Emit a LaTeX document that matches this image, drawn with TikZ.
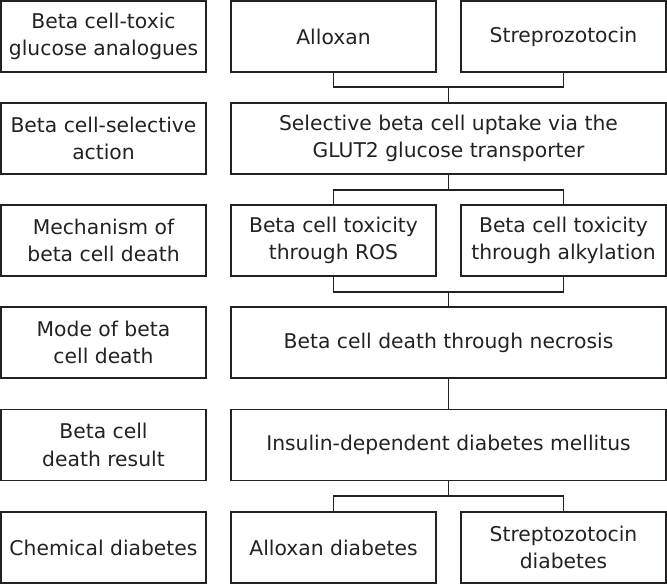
\documentclass[tikz,border=0pt]{standalone}
\usepackage{fontspec}
\setmainfont{DejaVu Sans}
\definecolor{ink}{RGB}{38,33,33}
\begin{document}
\begin{tikzpicture}[x=1pt,y=-1pt,
  box/.style={draw=ink,line width=1.2pt,rectangle,minimum height=71pt,minimum width=205pt,
    inner sep=0pt,align=center,text=ink,font=\fontsize{20.3}{27.5}\selectfont},
  wide/.style={box,minimum width=435pt},
  conn/.style={draw=ink,line width=1.2pt}]
\useasboundingbox (0,0) rectangle (667,584);
% left labels
\node[box] (l1) at (103.5,36.5) {Beta cell-toxic\\glucose analogues};
\node[box] (l2) at (103.5,138.5) {Beta cell-selective\\action};
\node[box] (l3) at (103.5,240.5) {Mechanism of\\beta cell death};
\node[box] (l4) at (103.5,342.5) {Mode of beta\\cell death};
\node[box] (l5) at (103.5,445) {Beta cell\\death result};
\node[box] (l6) at (103.5,547.5) {Chemical diabetes};
% right side
\node[box] (alx) at (333.5,36.5) {Alloxan};
\node[box] (stz) at (563.5,36.5) {Streprozotocin};
\node[wide] (sel) at (448.5,138.5) {Selective beta cell uptake via the\\GLUT2 glucose transporter};
\node[box] (ros) at (333.5,240.5) {Beta cell toxicity\\through ROS};
\node[box] (alk) at (563.5,240.5) {Beta cell toxicity\\through alkylation};
\node[wide] (nec) at (448.5,342.5) {Beta cell death through necrosis};
\node[wide] (idd) at (448.5,445) {Insulin-dependent diabetes mellitus};
\node[box] (ald) at (333.5,547.5) {Alloxan diabetes};
\node[box] (std) at (563.5,547.5) {Streptozotocin\\diabetes};
% junctions
\coordinate (j1) at (448.5,87);
\coordinate (j2) at (448.5,190);
\coordinate (j3) at (448.5,292);
\coordinate (j5) at (448.5,496);
% connectors
\draw[conn] (alx.south) |- (j1) -| (stz.south);
\draw[conn] (j1) -- (sel.north);
\draw[conn] (sel.south) -- (j2);
\draw[conn] (ros.north) |- (j2) -| (alk.north);
\draw[conn] (ros.south) |- (j3) -| (alk.south);
\draw[conn] (j3) -- (nec.north);
\draw[conn] (nec.south) -- (idd.north);
\draw[conn] (idd.south) -- (j5);
\draw[conn] (ald.north) |- (j5) -| (std.north);
\end{tikzpicture}
\end{document}
